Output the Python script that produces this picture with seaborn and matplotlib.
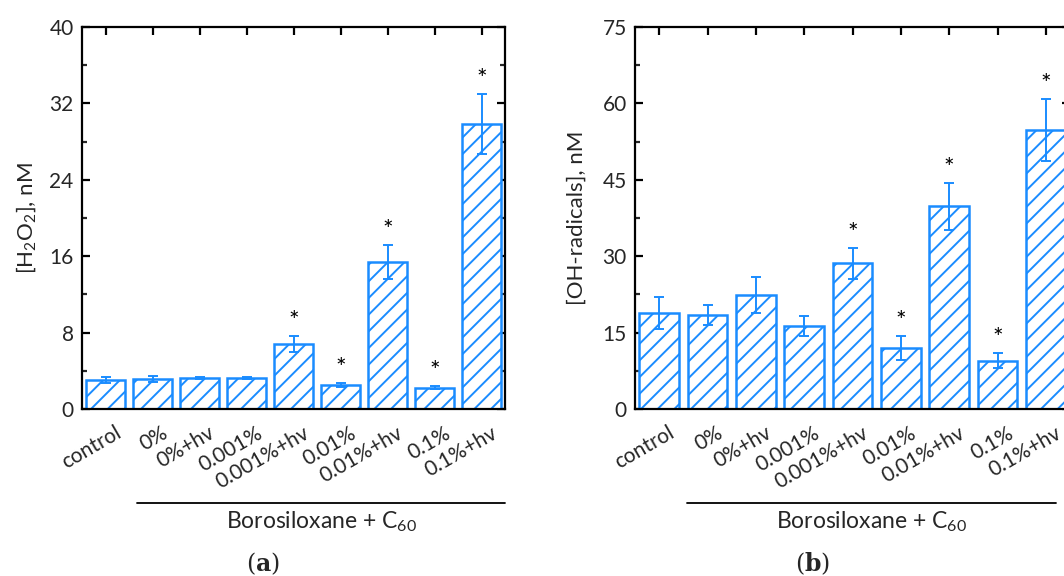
import numpy as np
import pandas as pd
import matplotlib
matplotlib.use("Agg")
import matplotlib.pyplot as plt
import matplotlib.transforms as mtransforms
import seaborn as sns

categories = ["control", "0%", "0%+hv", "0.001%", "0.001%+hv",
              "0.01%", "0.01%+hv", "0.1%", "0.1%+hv"]
h2o2 = [3.05, 3.15, 3.25, 3.25, 6.8, 2.55, 15.4, 2.25, 29.8]
h2o2_err = [0.3, 0.3, 0.15, 0.15, 0.85, 0.2, 1.8, 0.15, 3.15]
oh = [18.8, 18.4, 22.4, 16.3, 28.6, 12.0, 39.8, 9.5, 54.8]
oh_err = [3.1, 2.0, 3.5, 2.0, 3.0, 2.3, 4.6, 1.5, 6.1]
significant = [False, False, False, False, True, True, True, True, True]

BLUE = "#1A8CFF"
FONT = "Lato"

sns.set_style("ticks")
plt.rcParams["font.family"] = [FONT, "DejaVu Sans"]
plt.rcParams["mathtext.fontset"] = "custom"
plt.rcParams["mathtext.rm"] = FONT
plt.rcParams["mathtext.it"] = FONT + ":italic"
plt.rcParams["mathtext.bf"] = FONT + ":bold"
plt.rcParams["hatch.linewidth"] = 1.4
plt.rcParams["hatch.color"] = BLUE

fig = plt.figure(figsize=(10.64, 5.76), dpi=100)
W, H = 1064, 576
ax1 = fig.add_axes([82 / W, 1 - 409 / H, (505 - 82) / W, (409 - 27) / H])
ax2 = fig.add_axes([635 / W, 1 - 409 / H, (1070 - 635) / W, (409 - 27) / H])


def panel(ax, vals, errs, ymax, ystep, ylabel, bracket, group_x, ylab_x):
    df = pd.DataFrame({"cat": categories, "val": vals})
    sns.barplot(data=df, x="cat", y="val", ax=ax, color="white",
                edgecolor=BLUE, linewidth=1.8, width=0.82, saturation=1)
    for p in ax.patches:
        p.set_hatch("//")
        p.set_facecolor("white")
        p.set_edgecolor(BLUE)
    xs = np.arange(len(categories))
    ax.errorbar(xs, vals, yerr=errs, fmt="none", ecolor=BLUE,
                elinewidth=1.4, capsize=3.6, capthick=1.4, zorder=5)
    for x, v, e, s in zip(xs, vals, errs, significant):
        if s:
            ax.annotate("*", (x, v + e), xytext=(0, 5),
                        textcoords="offset points", ha="center",
                        va="baseline", fontsize=18, color="black")
    ax.set_xlim(-0.5, 8.5)
    ax.set_ylim(0, ymax)
    ax.set_yticks(np.arange(0, ymax + 0.1, ystep))
    ax.set_yticks(np.arange(ystep / 2, ymax, ystep), minor=True)
    ax.set_xlabel("")
    ax.set_ylabel(ylabel, fontsize=16)
    ax.yaxis.set_label_coords(ylab_x, 0.5)
    for sp in ax.spines.values():
        sp.set_visible(True)
        sp.set_linewidth(1.6)
        sp.set_color("black")
    ax.tick_params(axis="both", which="major", direction="in", length=6,
                   width=1.6, top=True, right=True, labelsize=15, pad=6,
                   color="black")
    ax.tick_params(axis="y", which="minor", direction="in", length=3.5,
                   width=1.6, right=True, left=True)
    ax.tick_params(axis="x", pad=10)
    offset = mtransforms.ScaledTranslation(0.09, 0.0, fig.dpi_scale_trans)
    ax.set_xticks(xs)
    ax.set_xticklabels(categories)
    for lab in ax.get_xticklabels():
        lab.set_rotation(30)
        lab.set_ha("right")
        lab.set_va("top")
        lab.set_rotation_mode("anchor")
        lab.set_fontsize(15)
        lab.set_transform(lab.get_transform() + offset)
    trans = mtransforms.blended_transform_factory(ax.transData, ax.transAxes)
    ax.plot(bracket, [-0.245, -0.245], color="black", lw=1.3,
            transform=trans, clip_on=False)
    fig.text(group_x / W, 1 - 522 / H, "Borosiloxane + C$_{60}$",
             ha="center", va="center", fontsize=16.5)


panel(ax1, h2o2, h2o2_err, 40, 8, "[H$_2$O$_2$], nM", [0.67, 8.5], 322, -0.104)
panel(ax2, oh, oh_err, 75, 15, "[OH-radicals], nM", [0.58, 8.2], 872, -0.11)

for tx, letter in [(263, "a"), (813, "b")]:
    fig.text(tx / W, 1 - 564 / H, "(" + r"$\mathbf{" + letter + "}$" + ")",
             ha="center", va="center", fontsize=17,
             family="DejaVu Serif", math_fontfamily="dejavuserif")

fig.savefig("out.png", dpi=100)
